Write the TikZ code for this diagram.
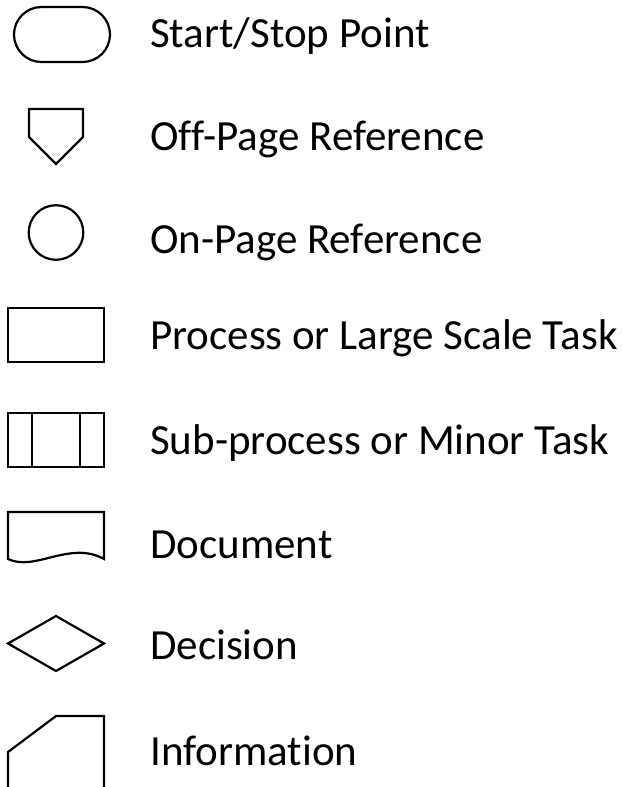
\documentclass[tikz,border=0pt]{standalone}
\usepackage{fontspec}
\setmainfont{Carlito}[Ligatures=NoCommon]
\begin{document}
\begin{tikzpicture}[x=1pt,y=-1pt,
  shp/.style={draw=black,line width=2.2pt,line join=miter},
  lbl/.style={anchor=base west,inner sep=0pt,font=\fontsize{43}{50}\selectfont}]
\useasboundingbox (0,0) rectangle (623,787);
\clip (0,0) rectangle (623,787);
% 1 start/stop
\draw[shp,rounded corners=27.5pt] (14,7) rectangle (110,62);
\node[lbl] (t1) at (150,47) {Start/Stop Point};
% 2 off-page
\draw[shp] (29,109) -- (83,109) -- (83,137) -- (56,164) -- (29,137) -- cycle;
\node[lbl] (t2) at (150,150) {Off-Page Reference};
% 3 on-page
\draw[shp] (56,232.5) circle[radius=27.3];
\node[lbl] (t3) at (150,253) {On-Page Reference};
% 4 process
\draw[shp] (8,308) rectangle (104,362);
\node[lbl] (t4) at (150,349) {Process or Large Scale Task};
% 5 subprocess
\draw[shp] (8,413) rectangle (104,467);
\draw[shp] (32,413) -- (32,467);
\draw[shp] (80,413) -- (80,467);
\node[lbl] (t5) at (150,454) {Sub-process or Minor Task};
% 6 document
\draw[shp] (8,512) -- (104,512) -- (104,559) .. controls (70,540) and (35,572) .. (8,559) -- cycle;
\node[lbl] (t6) at (150,558) {Document};
% 7 decision
\draw[shp] (56,616) -- (104,643.5) -- (56,671) -- (8,643.5) -- cycle;
\node[lbl] (t7) at (150,659) {Decision};
% 8 information
\draw[shp] (8,795) -- (8,752) -- (56,716) -- (104,716) -- (104,795);
\node[lbl] (t8) at (150,765) {Information};
\end{tikzpicture}
\end{document}
